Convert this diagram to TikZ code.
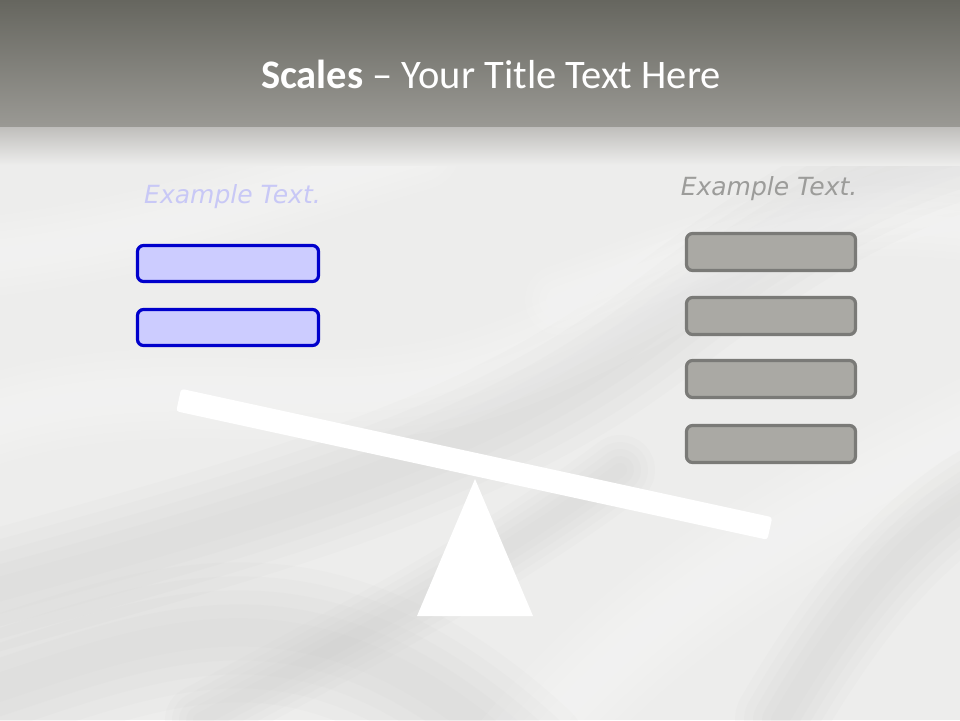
\documentclass[tikz,border=0pt]{standalone}
\usepackage{fontspec}
\setmainfont{Carlito}
\newfontfamily\exfont{DejaVu Sans}
\definecolor{bandtop}{HTML}{66665F}
\definecolor{bandbot}{HTML}{9A9994}
\definecolor{bandfade}{HTML}{BDBCB9}
\definecolor{bgbase}{HTML}{EDEDEC}
\definecolor{bgdark}{HTML}{C6C6C4}
\definecolor{bghigh}{HTML}{FFFFFF}
\definecolor{lfill}{HTML}{CCCCFF}
\definecolor{ldraw}{HTML}{0000CC}
\definecolor{rfill}{HTML}{AAA9A4}
\definecolor{rdraw}{HTML}{7A7A77}
\definecolor{ltext}{HTML}{C8C8F6}
\definecolor{rtext}{HTML}{9C9C9A}
\tikzset{
  lbox/.style={draw=ldraw, fill=lfill, line width=3.2pt, rounded corners=6pt,
    minimum width=181pt, minimum height=36pt, inner sep=0pt},
  rbox/.style={draw=rdraw, fill=rfill, line width=3.2pt, rounded corners=6pt,
    minimum width=169pt, minimum height=37pt, inner sep=0pt},
  extext/.style={font=\exfont\itshape\fontsize{25}{30}\selectfont, anchor=base, inner sep=0pt},
  beamstyle/.style={fill=white, rounded corners=3pt, minimum width=605pt,
    minimum height=23pt, inner sep=0pt},
  fold/.style={line cap=round, opacity=0.07},
}
\newcommand{\softband}[3]{%
  \foreach \w in {#2, 0.8*#2, 0.6*#2, 0.4*#2, 0.2*#2}
    {\draw[fold, draw=#1, line width=\w pt] #3;}}
\begin{document}
\begin{tikzpicture}[x=1pt,y=-1pt]
\useasboundingbox (0,0) rectangle (960,720);
% background
\fill[bgbase] (0,0) rectangle (960,720);
\begin{scope}
\clip (0,125) rectangle (960,720);
\softband{bgdark}{120}{(-40,600) .. controls (250,520) and (480,460) .. (650,330) .. controls (780,230) and (880,170) .. (1000,140)}
\softband{bghigh}{90}{(-40,430) .. controls (150,360) and (300,420) .. (460,380) .. controls (620,340) and (760,200) .. (1000,180)}
\softband{bgdark}{140}{(-40,700) .. controls (150,640) and (300,560) .. (520,760)}
\softband{bghigh}{110}{(520,760) .. controls (650,600) and (800,520) .. (1000,420)}
\softband{bgdark}{90}{(780,720) .. controls (850,600) and (920,520) .. (1000,480)}
\softband{bghigh}{80}{(-40,260) .. controls (150,240) and (250,200) .. (420,150)}
\softband{bghigh}{70}{(560,300) .. controls (700,250) and (800,200) .. (1000,230)}
\softband{bgdark}{70}{(200,720) .. controls (350,640) and (500,560) .. (620,470)}
\end{scope}
\shade[top color=bandfade, bottom color=bgbase] (0,125) rectangle (960,165);
\shade[top color=bandtop, bottom color=bandbot] (0,0) rectangle (960,126);
% title
\node[text=white, font=\fontsize{40.5}{48}\selectfont, anchor=base] (title) at (491,88)
  {\textbf{Scales} -- Your Title Text Here};
% left side
\node[extext, text=ltext] (ltxt) at (232.5,203) {Example Text.};
\node[lbox] (l1) at (228,263.5) {};
\node[lbox] (l2) at (228,327.5) {};
% right side
\node[extext, text=rtext] (rtxt) at (769,195) {Example Text.};
\node[rbox] (r1) at (771,252) {};
\node[rbox] (r2) at (771,316) {};
\node[rbox] (r3) at (771,379) {};
\node[rbox] (r4) at (771,444) {};
% scale
\node[beamstyle, rotate=-12.26] (beam) at (474.25,464.25) {};
\fill[white] (475,479) -- (533,616) -- (417,616) -- cycle;
\end{tikzpicture}
\end{document}
